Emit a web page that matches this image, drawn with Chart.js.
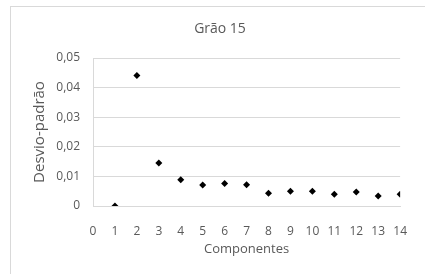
<!DOCTYPE html>
<html>
<head>
<meta charset="utf-8">
<script src="https://cdn.jsdelivr.net/npm/chart.js@4"></script>
<style>
  body { margin: 0; background: #fff; }
  #wrap { position: relative; width: 425px; height: 274px; overflow: hidden; }
  #frame { position: absolute; left: 10px; top: 6px; width: 440px; height: 300px; border: 1px solid #d9d9d9; }
  #chart { position: absolute; left: 0; top: 0; }
</style>
</head>
<body>
<div id="wrap">
  <div id="frame"></div>
  <canvas id="chart" width="425" height="274"></canvas>
</div>
<script>
// data
const componentes = [1, 2, 3, 4, 5, 6, 7, 8, 9, 10, 11, 12, 13, 14];
const desvioPadrao = [0, 0.0441, 0.0145, 0.0089, 0.0071, 0.0076, 0.0072, 0.0043, 0.0050, 0.0050, 0.0040, 0.0047, 0.0034, 0.0040];

const textColor = '#595959';
const lineColor = '#d9d9d9';
const fontFamily = "'Open Sans', sans-serif";

const points = componentes.map((c, i) => ({ x: c, y: desvioPadrao[i] }));

new Chart(document.querySelector('#chart').getContext('2d'), {
    type: 'scatter',
    data: {
        datasets: [
            {
                label: 'Desvio-padrão',
                data: points,
                pointStyle: 'rectRot',
                pointRadius: 3.5,
                pointBorderWidth: 0,
                backgroundColor: '#000',
                borderColor: '#000'
            }
        ]
    },
    options: {
        responsive: false,
        animation: false,
        layout: { padding: { left: 23, right: 8, top: 0, bottom: 0 } },
        plugins: {
            legend: { display: false },
            tooltip: { enabled: false },
            title: {
                display: true,
                text: 'Grão 15',
                color: textColor,
                font: { family: fontFamily, size: 14, weight: 'normal' },
                padding: { top: 20.6, bottom: 20.6 }
            }
        },
        scales: {
            x: {
                type: 'linear',
                min: 0,
                max: 14,
                afterFit: s => { s.height = 68; },
                ticks: { stepSize: 1, color: textColor, padding: 18, font: { family: fontFamily, size: 12 } },
                grid: { display: false, drawTicks: false },
                border: { display: true, color: lineColor },
                title: {
                    display: true,
                    text: 'Componentes',
                    color: textColor,
                    font: { family: fontFamily, size: 13 },
                    padding: { top: 3, bottom: 17 }
                }
            },
            y: {
                min: 0,
                max: 0.05,
                afterFit: s => { s.width = 70; },
                ticks: {
                    stepSize: 0.01,
                    color: textColor,
                    padding: 13,
                    font: { family: fontFamily, size: 12 },
                    callback: v => v === 0 ? '0' : v.toFixed(2).replace('.', ',')
                },
                grid: { color: lineColor, drawTicks: false },
                border: { display: true, color: lineColor },
                title: {
                    display: true,
                    text: 'Desvio-padrão',
                    color: textColor,
                    font: { family: fontFamily, size: 15 },
                    padding: { top: 8, bottom: 0 }
                }
            }
        }
    }
});
</script>
</body>
</html>
